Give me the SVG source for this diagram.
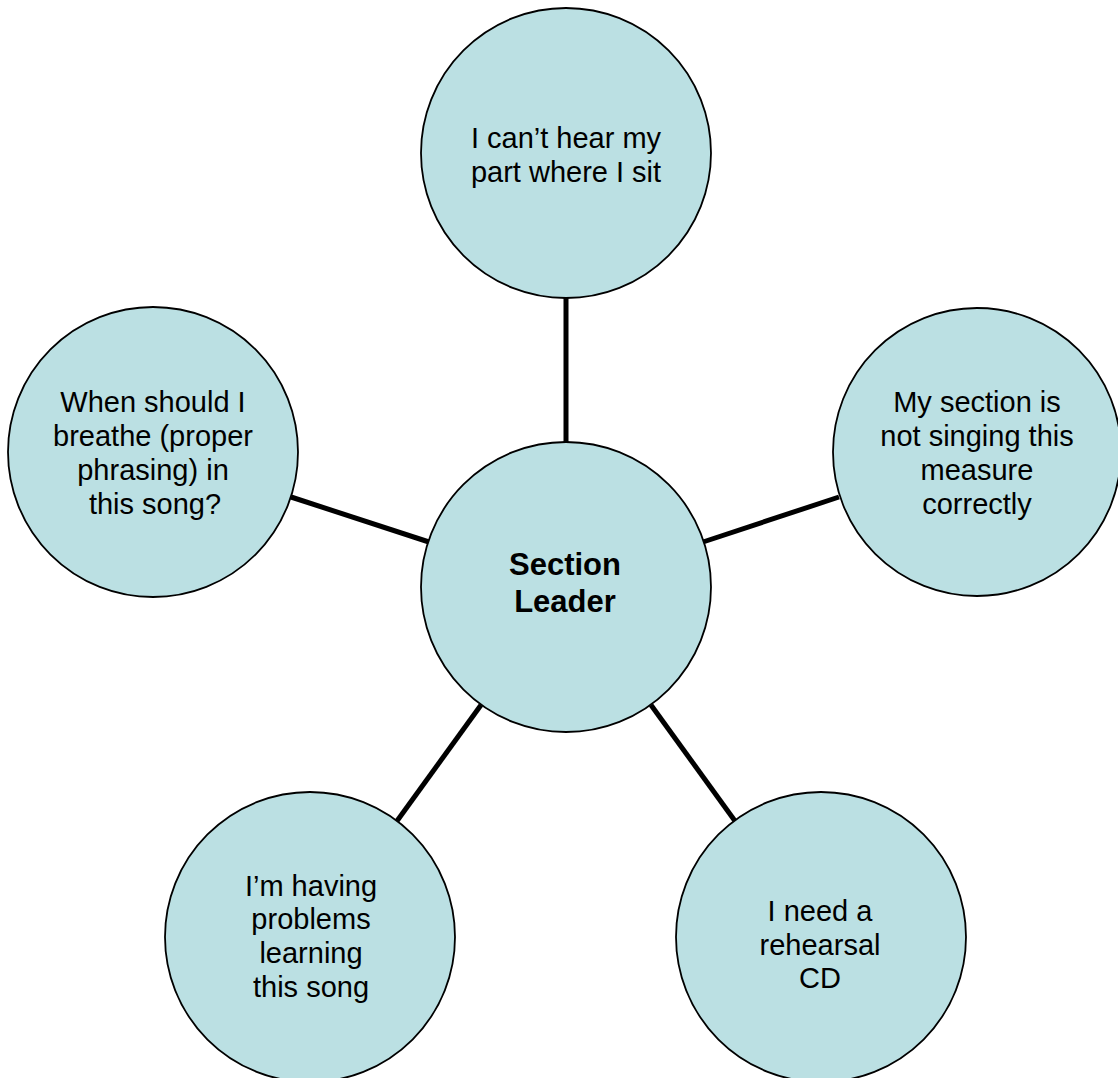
<svg xmlns="http://www.w3.org/2000/svg" width="1118" height="1078" viewBox="0 0 1118 1078">
<style>
.node{fill:#BBE0E3;stroke:#000;stroke-width:1.8}
.t{font-family:"Liberation Sans",Arial,sans-serif;font-size:29px;fill:#000;text-anchor:middle}
.b{font-family:"Liberation Sans",Arial,sans-serif;font-size:31px;font-weight:bold;fill:#000;text-anchor:middle}
.c{stroke:#000;stroke-width:5;fill:none}
</style>
<rect width="1118" height="1078" fill="#fff"/>
<g id="connectors">
<line class="c" x1="566" y1="297" x2="566" y2="442"/>
<line class="c" x1="291" y1="497" x2="429" y2="542"/>
<line class="c" x1="703" y1="542" x2="839" y2="497"/>
<line class="c" x1="481" y1="705" x2="397" y2="821"/>
<line class="c" x1="651" y1="705" x2="735" y2="821"/>
</g>
<g id="node-top">
<circle class="node" cx="566" cy="153" r="145"/>
<text class="t" x="566" y="148">I can’t hear my</text>
<text class="t" x="566" y="182">part where I sit</text>
</g>
<g id="node-left">
<circle class="node" cx="153" cy="452" r="145"/>
<text class="t" x="153" y="412">When should I</text>
<text class="t" x="153" y="446">breathe (proper</text>
<text class="t" x="153" y="480">phrasing) in</text>
<text class="t" x="155" y="514">this song?</text>
</g>
<g id="node-right">
<circle class="node" cx="977" cy="452" r="144"/>
<text class="t" x="977" y="412">My section is</text>
<text class="t" x="977" y="446">not singing this</text>
<text class="t" x="977" y="480">measure</text>
<text class="t" x="977" y="514">correctly</text>
</g>
<g id="node-center">
<circle class="node" cx="566" cy="587" r="145"/>
<text class="b" x="565" y="575">Section</text>
<text class="b" x="565" y="612">Leader</text>
</g>
<g id="node-bottom-left">
<circle class="node" cx="310" cy="937" r="145"/>
<text class="t" x="311" y="896">I’m having</text>
<text class="t" x="311" y="929">problems</text>
<text class="t" x="311" y="963">learning</text>
<text class="t" x="311" y="997">this song</text>
</g>
<g id="node-bottom-right">
<circle class="node" cx="821" cy="937" r="145"/>
<text class="t" x="820" y="921">I need a</text>
<text class="t" x="820" y="955">rehearsal</text>
<text class="t" x="820" y="988">CD</text>
</g>
</svg>
